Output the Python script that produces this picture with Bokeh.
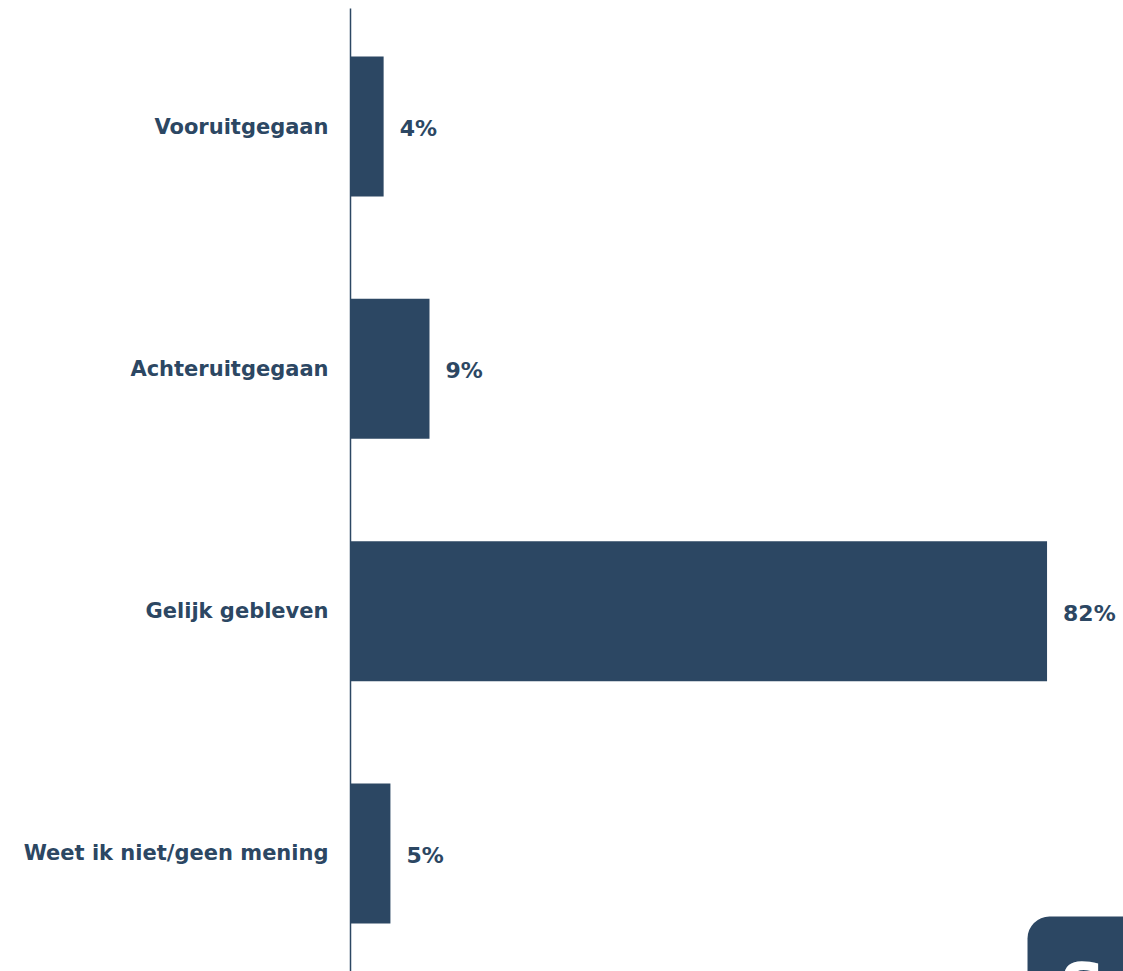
from bokeh.plotting import figure
from bokeh.models import ColumnDataSource, Range1d, FactorRange, BoxAnnotation, Label
from bokeh.embed import file_html
from bokeh.resources import INLINE

categories = ["Vooruitgegaan", "Achteruitgegaan", "Gelijk gebleven", "Weet ik niet/geen mening"]
values = [3.9, 9.3, 82.0, 4.7]
labels = ["4%", "9%", "82%", "5%"]

COLOR = "#2c4763"
FONT = "DejaVu Sans"

src = ColumnDataSource(dict(cat=categories, val=values, lab=labels))

y_range = FactorRange(factors=categories[::-1], range_padding=-0.013, range_padding_units="absolute")
p = figure(width=1123, height=971, y_range=y_range, x_range=Range1d(0, 91),
           output_backend="svg", toolbar_location=None,
           min_border_left=350, min_border_right=0, min_border_top=8, min_border_bottom=0)

p.hbar(y="cat", right="val", left=0, height=0.578, source=src, color=COLOR, line_color=None)
p.text(x="val", y="cat", text="lab", source=src, x_offset=16, y_offset=2, text_baseline="middle",
       text_align="left", text_font_size="22px", text_font_style="bold", text_color=COLOR,
       text_font={"value": FONT})

p.xaxis.visible = False
p.xgrid.visible = False
p.ygrid.visible = False
p.outline_line_color = None

ax = p.yaxis[0]
ax.axis_line_color = COLOR
ax.axis_line_width = 1.5
ax.major_tick_line_color = None
ax.minor_tick_line_color = None
ax.major_label_text_font = FONT
ax.major_label_text_font_style = "bold"
ax.major_label_text_font_size = "21px"
ax.major_label_text_color = COLOR
ax.major_label_standoff = 16

# decorative logo badge in the lower-right corner (partially cut off)
logo = BoxAnnotation(left=79.7, right=100, top=0.24, bottom=-1,
                     fill_color=COLOR, fill_alpha=1, line_color=None, border_radius=22)
p.add_layout(logo)
p.add_layout(Label(x=83.5, y=0.1, text="S", text_color="white", text_font=FONT,
                   text_font_style="bold", text_font_size="64px", text_baseline="top"))

open("out.html", "w").write(file_html(p, INLINE))
